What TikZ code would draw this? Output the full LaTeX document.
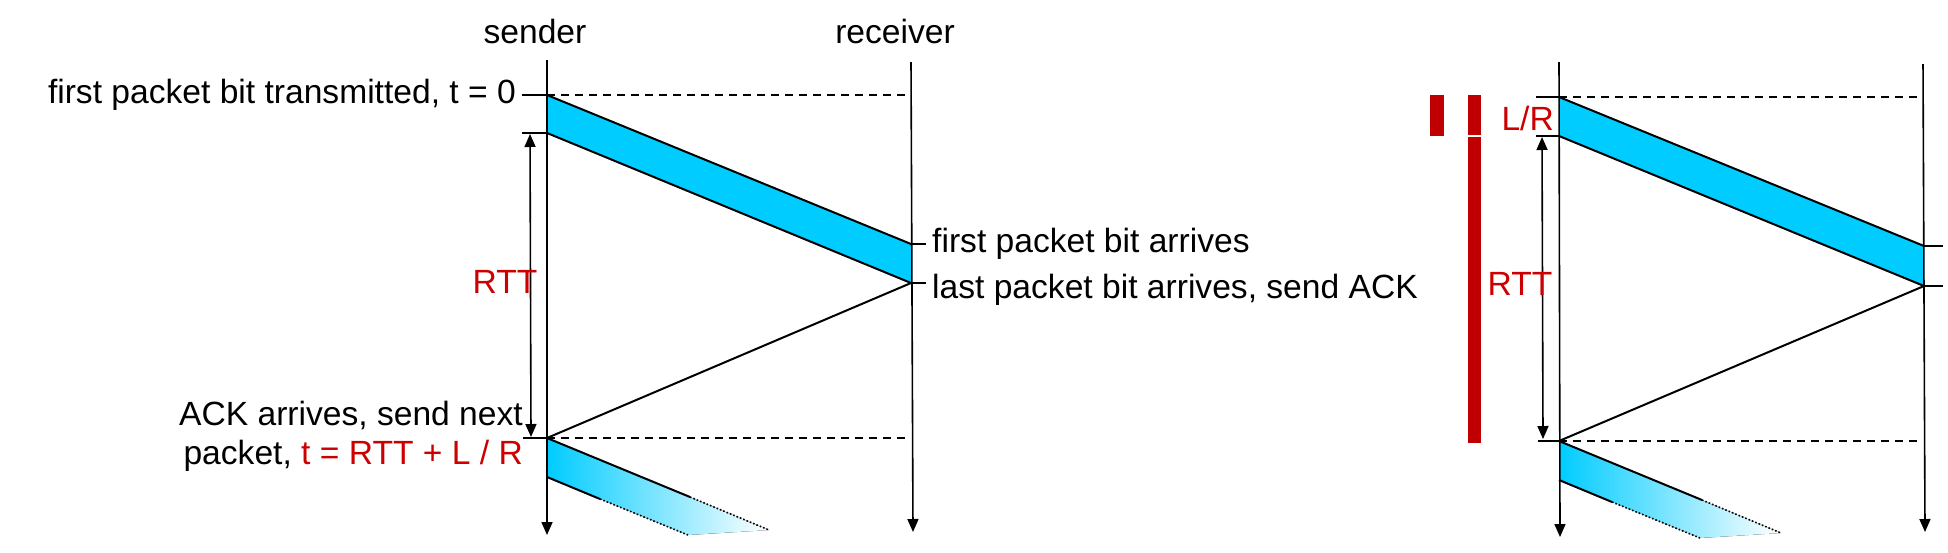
\documentclass[tikz,border=0pt]{standalone}
\usepackage{fontspec}
\setmainfont{Liberation Sans}
\usetikzlibrary{arrows.meta}
\definecolor{pktblue}{RGB}{0,204,255}
\definecolor{barred}{RGB}{192,0,0}
\definecolor{txtred}{RGB}{204,0,0}
\begin{document}
\begin{tikzpicture}[x=1pt,y=-1pt,
  lbl/.style={font=\fontsize{33.6}{33.6}\selectfont, inner sep=0pt},
  redlbl/.style={lbl, text=txtred},
  timeline/.style={line width=1.6pt, -{Triangle[length=13pt,width=11pt]}},
  tickline/.style={line width=2pt},
  pktedge/.style={line width=2pt, line join=round},
  dotedge/.style={line width=1.6pt, dotted},
  dashline/.style={line width=2pt, dash pattern=on 8pt off 6pt},
  rttarrow/.style={line width=1.6pt, {Triangle[length=13pt,width=11pt]}-{Triangle[length=13pt,width=11pt]}},
  pktfill/.style={fill=pktblue},
  fadefill/.style={left color=pktblue, right color=white},
  redbar/.style={fill=barred, draw=none}]
\useasboundingbox (0,0) rectangle (1948,552);

% ---------------- left diagram ----------------
\coordinate (Ls0) at (547,60);  \coordinate (Ls1) at (547,535);
\coordinate (Lr0) at (911,62);  \coordinate (Lr1) at (913,532);
\coordinate (La1) at (547,95);  \coordinate (La2) at (547,133);
\coordinate (Lb1) at (911,244); \coordinate (Lb2) at (911,283);
\coordinate (Lc1) at (547,438); \coordinate (Lc2) at (547,477);
\coordinate (Ld1) at (690,497); \coordinate (Le1) at (769,530);
\coordinate (Ld2) at (600,499); \coordinate (Le2) at (688,535);

\fill[pktfill] (La1) -- (Lb1) -- (Lb2) -- (La2) -- cycle;
\fill[fadefill] (Lc1) -- (Le1) -- (Le2) -- (Lc2) -- cycle;

\draw[pktedge] (La1) -- (Lb1);
\draw[pktedge] (La2) -- (Lb2);
\draw[pktedge] (Lb2) -- (Lc1);
\draw[pktedge] (Lc1) -- (Ld1);
\draw[dotedge] (Ld1) -- (Le1);
\draw[pktedge] (Lc2) -- (Ld2);
\draw[dotedge] (Ld2) -- (Le2);

\draw[dashline] (La1) -- (911,95);
\draw[dashline] (Lc1) -- (908,438);

\draw[timeline] (Ls0) -- (Ls1);
\draw[timeline] (Lr0) -- (Lr1);

\coordinate (Lt1) at (522,95);  \coordinate (Lt2) at (522,133);
\coordinate (Lt3) at (523,438);
\coordinate (Lu1) at (926,244); \coordinate (Lu2) at (926,283);
\draw[tickline] (Lt1) -- (La1);
\draw[tickline] (Lt2) -- (La2);
\draw[tickline] (Lt3) -- (Lc1);
\draw[tickline] (Lb1) -- (Lu1);
\draw[tickline] (Lb2) -- (Lu2);

\coordinate (Lrtt1) at (530,134); \coordinate (Lrtt2) at (531,437);
\draw[rttarrow] (Lrtt1) -- (Lrtt2);

\node[lbl, anchor=base] (sender) at (535,43) {sender};
\node[lbl, anchor=base] (receiver) at (895,43) {receiver};
\node[lbl, anchor=base east] (firstTx) at (516,103) {first packet bit transmitted, t = 0};
\node[lbl, anchor=base west] (firstArr) at (932,252) {first packet bit arrives};
\node[lbl, anchor=base west] (lastArr) at (932,298) {last packet bit arrives, send ACK};
\node[redlbl, anchor=base] (Lrtt) at (505,293) {RTT};
\node[lbl, anchor=base east] (ackArr) at (523,425) {ACK arrives, send next};
\node[lbl, anchor=base east] (pktNext) at (523,464) {packet, \textcolor{txtred}{t = RTT + L / R}};

% ---------------- right diagram ----------------
\coordinate (Rs0) at (1559,62);  \coordinate (Rs1) at (1560,537);
\coordinate (Rr0) at (1923,64);  \coordinate (Rr1) at (1925,532);
\coordinate (Ra1) at (1559,97);  \coordinate (Ra2) at (1559,136);
\coordinate (Rb1) at (1924,246); \coordinate (Rb2) at (1924,286);
\coordinate (Rc1) at (1559,441); \coordinate (Rc2) at (1559,480);
\coordinate (Rd1) at (1702,500); \coordinate (Re1) at (1781,533);
\coordinate (Rd2) at (1612,502); \coordinate (Re2) at (1700,538);

\fill[pktfill] (Ra1) -- (Rb1) -- (Rb2) -- (Ra2) -- cycle;
\fill[fadefill] (Rc1) -- (Re1) -- (Re2) -- (Rc2) -- cycle;

\draw[pktedge] (Ra1) -- (Rb1);
\draw[pktedge] (Ra2) -- (Rb2);
\draw[pktedge] (Rb2) -- (Rc1);
\draw[pktedge] (Rc1) -- (Rd1);
\draw[dotedge] (Rd1) -- (Re1);
\draw[pktedge] (Rc2) -- (Rd2);
\draw[dotedge] (Rd2) -- (Re2);

\draw[dashline] (Ra1) -- (1922,97);
\draw[dashline] (Rc1) -- (1920,441);

\draw[timeline] (Rs0) -- (Rs1);
\draw[timeline] (Rr0) -- (Rr1);

\coordinate (Rt1) at (1536,97);  \coordinate (Rt2) at (1536,136);
\coordinate (Rt3) at (1538,441);
\coordinate (Ru1) at (1943,246); \coordinate (Ru2) at (1943,286);
\draw[tickline] (Rt1) -- (Ra1);
\draw[tickline] (Rt2) -- (Ra2);
\draw[tickline] (Rt3) -- (Rc1);
\draw[tickline] (Rb1) -- (Ru1);
\draw[tickline] (Rb2) -- (Ru2);

\coordinate (Rrtt1) at (1542,137); \coordinate (Rrtt2) at (1543,439);
\draw[rttarrow] (Rrtt1) -- (Rrtt2);

\node[redlbl, anchor=base east] (LR) at (1554,130) {L/R};
\node[redlbl, anchor=base] (Rrtt) at (1520,295) {RTT};

\fill[redbar] (1430,95) rectangle (1444,136);
\fill[redbar] (1468,95) rectangle (1481,135);
\fill[redbar] (1468,137) rectangle (1481,443);
\end{tikzpicture}
\end{document}
